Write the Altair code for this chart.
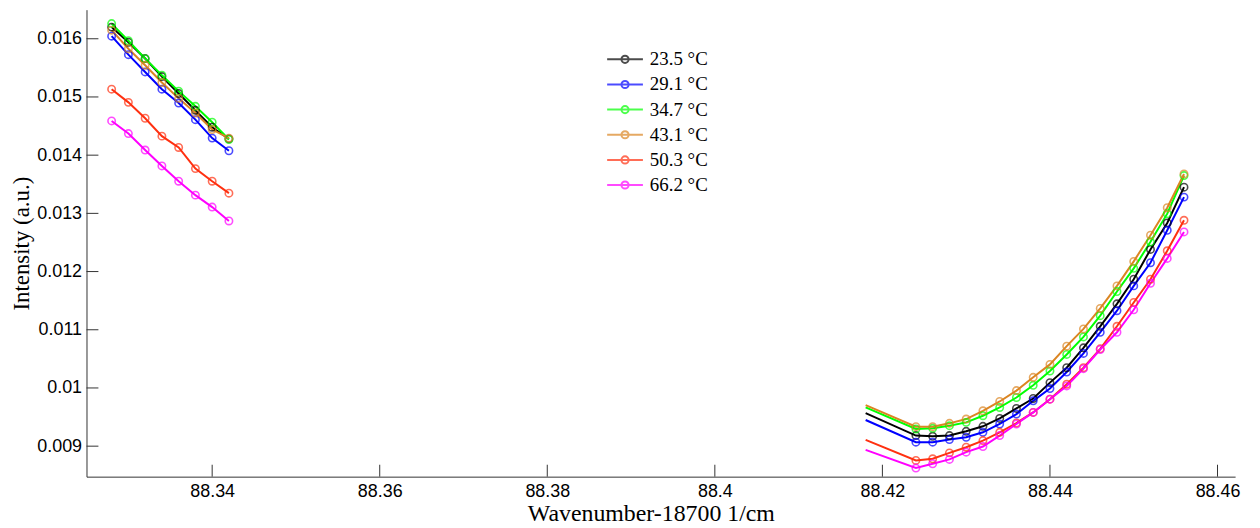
import altair as alt
import pandas as pd

labels = ["23.5 °C", "29.1 °C", "34.7 °C", "43.1 °C", "50.3 °C", "66.2 °C"]
colors = ["#000000", "#0000FF", "#00FF00", "#DB8522", "#FF3010", "#FF00FF"]

left_x = [88.328, 88.330, 88.332, 88.334, 88.336, 88.338, 88.340, 88.342]
right_x = [88.418, 88.424, 88.426, 88.428, 88.430, 88.432, 88.434, 88.436, 88.438,
           88.440, 88.442, 88.444, 88.446, 88.448, 88.450, 88.452, 88.454, 88.456]

left_235 = [0.01620, 0.01594, 0.01566, 0.01535, 0.01506, 0.01477, 0.01448, 0.01428]
left_291 = [0.016044, 0.015727, 0.015430, 0.015134, 0.014895, 0.014610, 0.014293, 0.014076]
left_347 = [0.016261, 0.015966, 0.015659, 0.015373, 0.015100, 0.014839, 0.014566, 0.014269]
left_431 = [0.016147, 0.015829, 0.015544, 0.015249, 0.014976, 0.014725, 0.014440, 0.014293]
left_503 = [0.015134, 0.014907, 0.014634, 0.014327, 0.014132, 0.013769, 0.013552, 0.013347]
left_662 = [0.014588, 0.014371, 0.014088, 0.013815, 0.013552, 0.013313, 0.013108, 0.012869]

right_235 = [0.009569, 0.009182, 0.009170, 0.009182, 0.009255, 0.009341, 0.009477, 0.009648, 0.009819,
             0.010092, 0.010348, 0.010690, 0.011060, 0.011446, 0.011868, 0.012380, 0.012835, 0.013450]
right_291 = [0.009449, 0.009068, 0.009068, 0.009113, 0.009153, 0.009238, 0.009381, 0.009551, 0.009779,
             0.009990, 0.010274, 0.010593, 0.010957, 0.011327, 0.011754, 0.012152, 0.012710, 0.013279]
right_347 = [0.009665, 0.009295, 0.009307, 0.009352, 0.009409, 0.009523, 0.009665, 0.009836, 0.010046,
             0.010291, 0.010576, 0.010877, 0.011242, 0.011657, 0.012055, 0.012511, 0.012995, 0.013649]
right_431 = [0.009705, 0.009335, 0.009335, 0.009392, 0.009466, 0.009608, 0.009768, 0.009955, 0.010183,
             0.010405, 0.010718, 0.011014, 0.011367, 0.011754, 0.012175, 0.012625, 0.013097, 0.013677]
right_503 = [0.009108, 0.008755, 0.008783, 0.008885, 0.008982, 0.009096, 0.009238, 0.009398, 0.009580,
             0.009807, 0.010064, 0.010348, 0.010673, 0.011060, 0.011469, 0.011868, 0.012357, 0.012881]
right_662 = [0.008937, 0.008624, 0.008698, 0.008772, 0.008897, 0.008994, 0.009182, 0.009381, 0.009580,
             0.009807, 0.010035, 0.010331, 0.010661, 0.010957, 0.011344, 0.011799, 0.012226, 0.012681]

left_vals = [left_235, left_291, left_347, left_431, left_503, left_662]
right_vals = [right_235, right_291, right_347, right_431, right_503, right_662]

x_ticks = [88.34, 88.36, 88.38, 88.40, 88.42, 88.44, 88.46]
y_ticks = [0.009, 0.010, 0.011, 0.012, 0.013, 0.014, 0.015, 0.016]

rows = []
for si, (lab, lv, rv) in enumerate(zip(labels, left_vals, right_vals)):
    for x, y in zip(left_x, lv):
        rows.append(dict(wn=x, inten=y, series=lab, seg="a", marker=True, si=si))
    for i, (x, y) in enumerate(zip(right_x, rv)):
        rows.append(dict(wn=x, inten=y, series=lab, seg="b", marker=i > 0, si=si))
df = pd.DataFrame(rows)

W, H = 1156, 470
xscale = alt.Scale(domain=[88.325, 88.4621], nice=False, zero=False)
yscale = alt.Scale(domain=[0.008476, 0.0165], nice=False, zero=False)

xaxis = alt.Axis(values=x_ticks, format=".2~f", ticks=False, tickSize=0, grid=False,
                 labelFont="Liberation Sans", labelFontSize=18, labelColor="black", labelPadding=6,
                 domainColor="#333333", domainWidth=1,
                 title="Wavenumber-18700 1/cm", titleFont="Liberation Serif", titleFontSize=24,
                 titleFontWeight="normal", titleColor="black", titleX=568, titleY=44,
                 titleBaseline="alphabetic", titleAlign="center")
yaxis = alt.Axis(values=y_ticks, format=".3~f", ticks=False, tickSize=0, grid=False,
                 labelFont="Liberation Sans", labelFontSize=18, labelColor="black", labelPadding=5,
                 domainColor="#333333", domainWidth=1,
                 title="Intensity (a.u.)", titleFont="Liberation Serif", titleFontSize=23,
                 titleFontWeight="normal", titleColor="black", titleX=-58, titleY=235,
                 titleAngle=270, titleBaseline="alphabetic", titleAlign="center")

legend = alt.Legend(title=None, orient="none", legendX=532, legendY=40, padding=0,
                    symbolType="M-2,0H2M-0.4,0A0.4,0.4,0,1,1,0.4,0A0.4,0.4,0,1,1,-0.4,0",
                    symbolSize=324, symbolStrokeWidth=2, symbolFillColor="transparent",
                    labelFont="Liberation Serif", labelFontSize=19, labelColor="black",
                    labelOffset=15, rowPadding=5.3)

color = alt.Color("series:N", scale=alt.Scale(domain=labels, range=colors), legend=legend)

base = alt.Chart(df)
lines = base.mark_line(strokeWidth=2).encode(
    x=alt.X("wn:Q", scale=xscale, axis=xaxis),
    y=alt.Y("inten:Q", scale=yscale, axis=yaxis),
    color=color,
    detail="seg:N",
    order="wn:Q",
)
points = base.transform_filter("datum.marker").mark_point(
    shape="circle", filled=False, size=55, strokeWidth=1.6
).encode(
    x=alt.X("wn:Q", scale=xscale, axis=xaxis),
    y=alt.Y("inten:Q", scale=yscale, axis=yaxis),
    color=color,
    order="si:Q",
)

xt = alt.Chart(pd.DataFrame({"wn": x_ticks})).mark_rule(color="#333333", strokeWidth=1).encode(
    x=alt.X("wn:Q", scale=xscale, axis=xaxis), y=alt.value(H - 12), y2=alt.value(H))
yt = alt.Chart(pd.DataFrame({"inten": y_ticks})).mark_rule(color="#333333", strokeWidth=1).encode(
    y=alt.Y("inten:Q", scale=yscale, axis=yaxis), x=alt.value(0), x2=alt.value(12))

chart = alt.layer(lines, points, xt, yt).properties(
    width=W, height=H,
    background="white",
    autosize=alt.AutoSizeParams(type="none"),
    padding={"left": 79, "top": 0, "right": 17, "bottom": 50},
).configure_view(strokeWidth=0)

chart.save("out.html", embed_options={"renderer": "svg", "actions": False})
